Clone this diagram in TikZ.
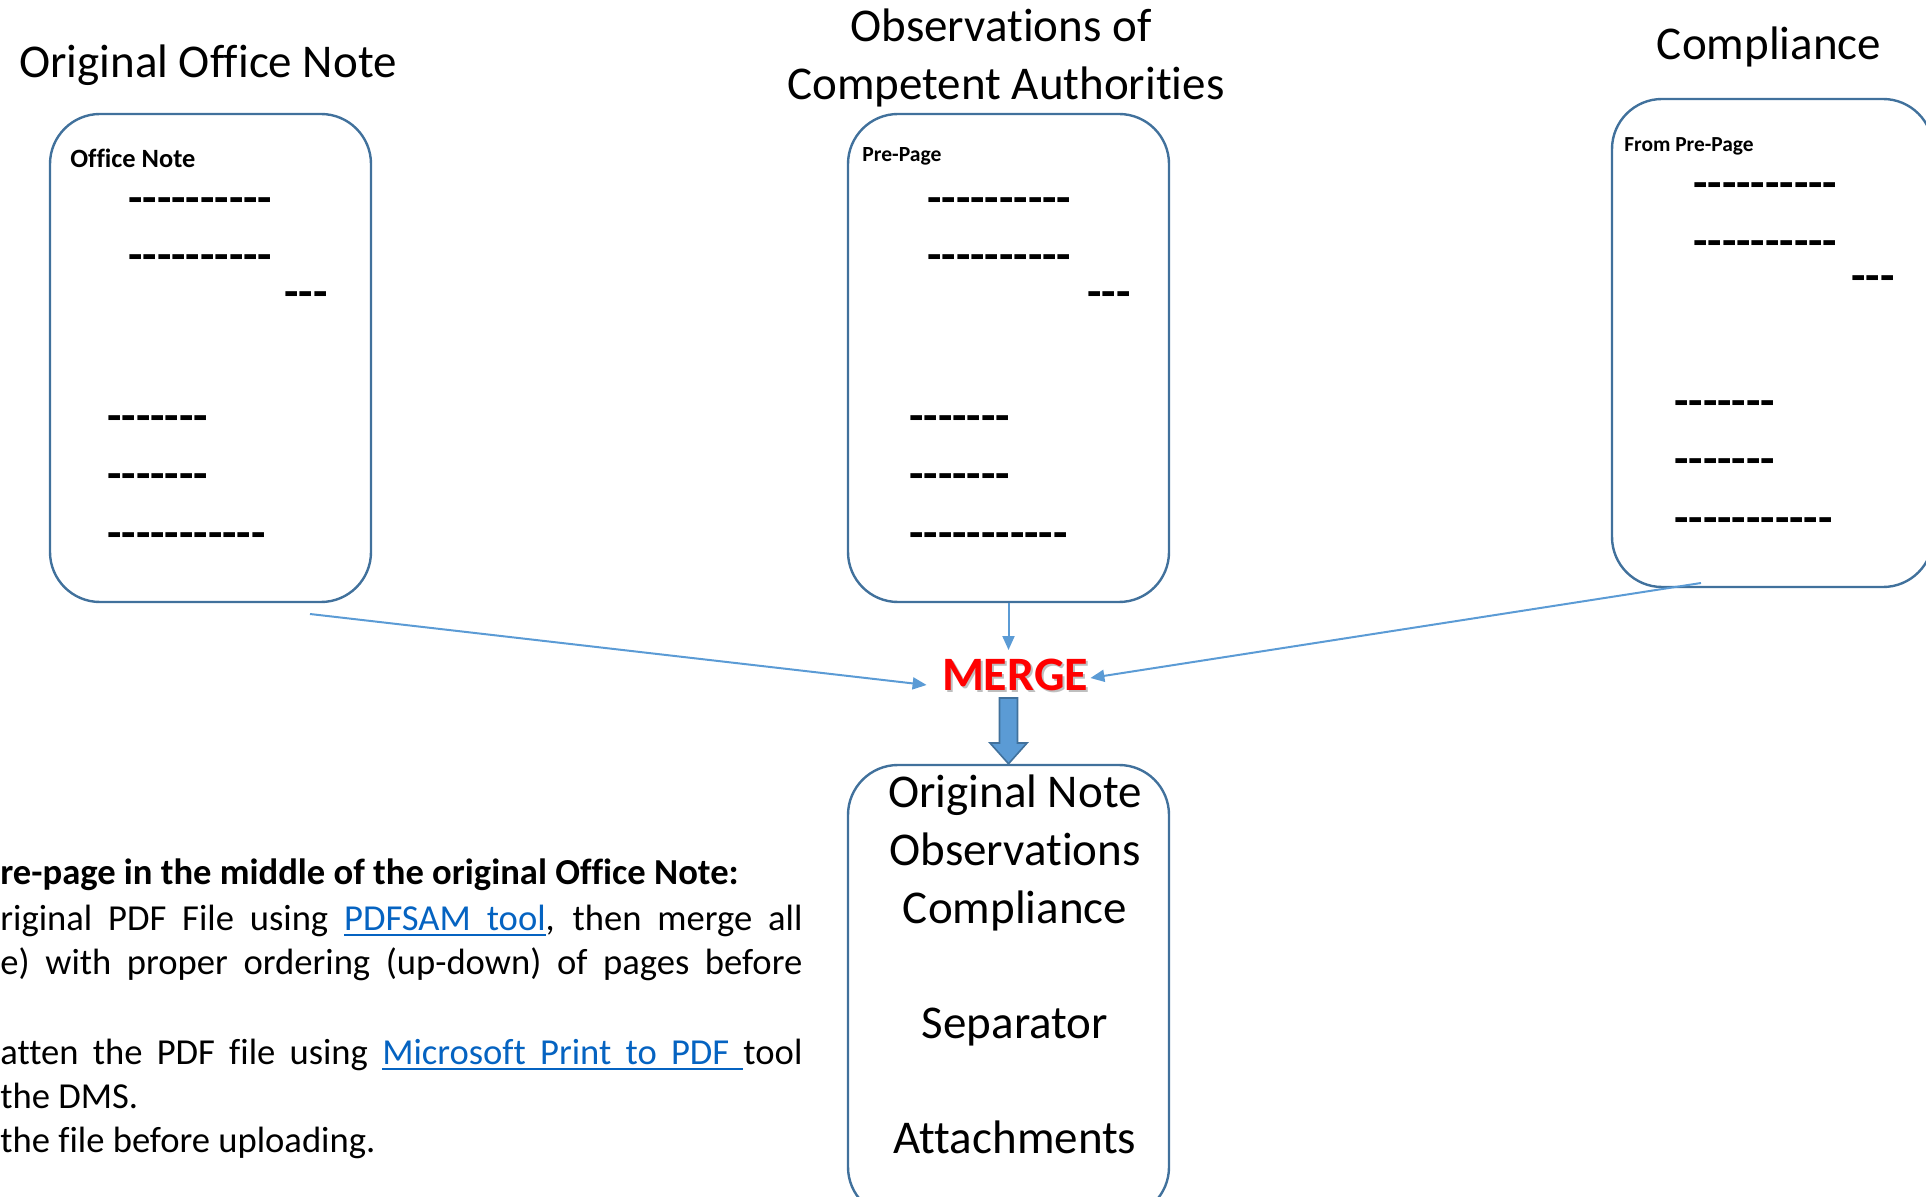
\documentclass[tikz,border=0pt]{standalone}
\usepackage{fontspec}
\setmainfont{Carlito}[Ligatures={TeXOff,NoCommon}]
\usetikzlibrary{arrows.meta}
\definecolor{boxline}{HTML}{41719C}
\definecolor{arrowblue}{HTML}{5B9BD5}
\definecolor{linkblue}{HTML}{0563C1}
\definecolor{mergered}{HTML}{FF0000}
\newcommand{\ulw}[1]{\leavevmode\setbox0\hbox{#1}\rlap{\rule[-3pt]{\wd0}{1pt}}\box0}
\newcommand{\ulsp}{\leaders\hrule height -2pt depth 3pt\hskip\fontdimen2\font plus\fontdimen3\font minus\fontdimen4\font\relax}
\tikzset{
  pagebox/.style={draw=boxline, line width=1.2pt, rounded corners=25pt, minimum width=160.5pt, inner sep=0pt},
  bigtext/.style={font=\fontsize{23.5}{28.75}\selectfont, inner sep=0pt, anchor=base},
  dashrow/.style={font=\fontsize{23.5}{28.75}\selectfont\bfseries, inner sep=0pt, anchor=base west},
  boxlabel/.style={inner sep=0pt, anchor=base west},
  bodyline/.style={font=\fontsize{18.3}{22.3}\selectfont, inner sep=0pt, anchor=base west},
  thinarrow/.style={draw=arrowblue, line width=1pt, -{Triangle[length=7pt,width=6pt]}},
  blockarrow/.style={fill=arrowblue, draw=boxline, line width=0.8pt, line join=miter},
}
\begin{document}
\begin{tikzpicture}[x=0.5pt,y=-0.5pt]
\useasboundingbox (0,0) rectangle (1926,1197);
\begin{scope}
\clip (0,0) rectangle (1926,1197);

% titles
\node[bigtext] (t1) at (208,78) {Original Office Note};
\node[bigtext] (t2a) at (1001,42) {Observations of};
\node[bigtext] (t2b) at (1006,100) {Competent Authorities};
\node[bigtext] (t3) at (1769,60) {Compliance};

% page boxes
\node[pagebox, minimum height=244pt] (b1) at (210.5,358) {};
\node[pagebox, minimum height=244pt] (b2) at (1008.5,358) {};
\node[pagebox, minimum height=244pt] (b3) at (1772.5,343) {};
\node[pagebox, minimum height=226pt] (b4) at (1008.5,991) {};

% box labels
\node[boxlabel, font=\fontsize{13.2}{16}\selectfont\bfseries] (l1) at (70,168) {Office Note};
\node[boxlabel, font=\fontsize{10.8}{13}\selectfont\bfseries] (l2) at (862,162) {Pre-Page};
\node[boxlabel, font=\fontsize{10.7}{13}\selectfont\bfseries] (l3) at (1624,152) {From Pre-Page};

% dash rows box 1
\node[dashrow] (d11) at (128,214) {----------};
\node[dashrow] (d12) at (128,271) {----------};
\node[dashrow] (d13) at (284,308) {---};
\node[dashrow] (d14) at (107,432) {-------};
\node[dashrow] (d15) at (107,489) {-------};
\node[dashrow] (d16) at (107,548) {-----------};
% dash rows box 2
\node[dashrow] (d21) at (927,214) {----------};
\node[dashrow] (d22) at (927,271) {----------};
\node[dashrow] (d23) at (1087,308) {---};
\node[dashrow] (d24) at (909,432) {-------};
\node[dashrow] (d25) at (909,490) {-------};
\node[dashrow] (d26) at (909,548) {-----------};
% dash rows box 3
\node[dashrow] (d31) at (1693,199) {----------};
\node[dashrow] (d32) at (1693,257) {----------};
\node[dashrow] (d33) at (1851,292) {---};
\node[dashrow] (d34) at (1674,417) {-------};
\node[dashrow] (d35) at (1674,475) {-------};
\node[dashrow] (d36) at (1674,533) {-----------};

% merge
\node[font=\fontsize{24}{28}\selectfont\bfseries, text=black!25, inner sep=0pt] (mshadow) at (1017,677) {MERGE};
\node[font=\fontsize{24}{28}\selectfont\bfseries, text=mergered, inner sep=0pt] (merge) at (1015,675) {MERGE};

% connectors
\coordinate (s1) at (310,614);
\coordinate (s3) at (1701,583);
\coordinate (mtop) at (1008.5,650);
\draw[thinarrow] (s1) -- ([shift={(-15,10)}]merge.west);
\draw[thinarrow] (s3) -- ([shift={(2,3)}]merge.east);
\draw[thinarrow] (b2.south) -- (mtop);

% block arrow
\draw[blockarrow] (999.5,698) -- (1017.5,698) -- (1017.5,743) -- (1027,743) -- (b4.north) -- (990,743) -- (999.5,743) -- cycle;

% result box text
\node[bigtext] (r1) at (1015,807) {Original Note};
\node[bigtext] (r2) at (1015,865) {Observations};
\node[bigtext] (r3) at (1015,923) {Compliance};
\node[bigtext] (r4) at (1015,1038) {Separator};
\node[bigtext] (r5) at (1015,1153) {Attachments};

% bottom-left text
\node[bodyline, font=\fontsize{18.3}{22.3}\selectfont\bfseries] (p1) at (0,884) {re-page in the middle of the original Office Note:};
\node[bodyline] (p2) at (0,930) {\makebox[401pt][s]{riginal PDF File using \textcolor{linkblue}{\ulw{PDFSAM}\ulsp\ulw{tool}}, then merge all}};
\node[bodyline] (p3) at (0,974) {\makebox[401pt][s]{e) with proper ordering (up-down) of pages before}};
\node[bodyline] (p4) at (0,1064) {\makebox[401pt][s]{atten the PDF file using \textcolor{linkblue}{\ulw{Microsoft}\ulsp\ulw{Print}\ulsp\ulw{to}\ulsp\ulw{PDF}\ulsp}tool}};
\node[bodyline] (p5) at (0,1108) {the DMS.};
\node[bodyline] (p6) at (0,1152) {the file before uploading.};
\end{scope}
\end{tikzpicture}
\end{document}
